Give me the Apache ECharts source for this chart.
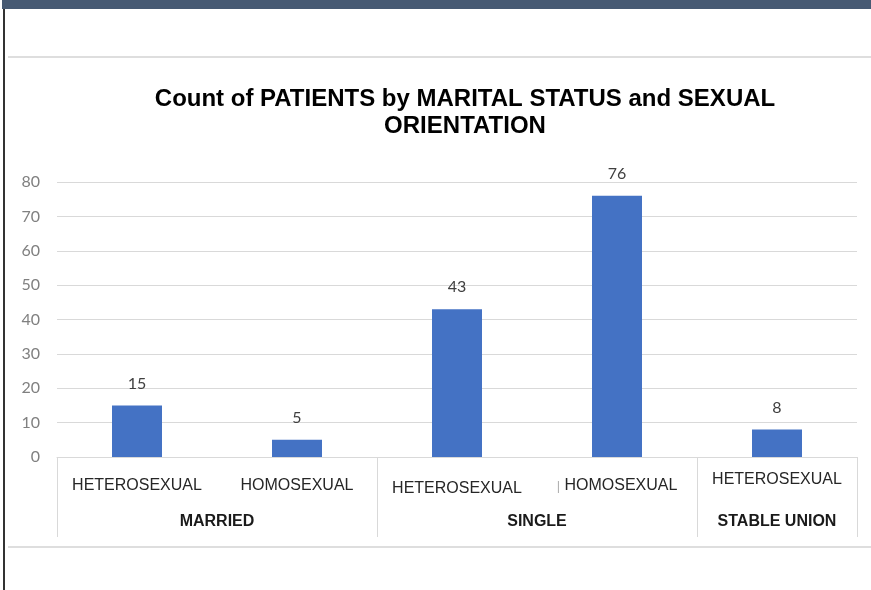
<!DOCTYPE html>
<html>
<head>
<meta charset="utf-8">
<script src="https://cdn.jsdelivr.net/npm/echarts@6/dist/echarts.min.js"></script>
<style>
  html, body { margin: 0; padding: 0; background: #fff; }
  #topbar { position: absolute; left: 2px; top: 0; width: 869px; height: 9px; background: #475a73; }
  #leftline { position: absolute; left: 3px; top: 9px; width: 2px; height: 581px; background: #333; }
  .rule { position: absolute; left: 8px; width: 863px; height: 2px; background: #dedede; }
  #chart { position: absolute; left: 0; top: 0; width: 871px; height: 590px; }
</style>
</head>
<body>
<div id="topbar"></div>
<div id="leftline"></div>
<div class="rule" style="top:56px"></div>
<div class="rule" style="top:546px"></div>
<div id="chart"></div>
<script>
// Data
const orientations = ['HETEROSEXUAL', 'HOMOSEXUAL', 'HETEROSEXUAL', 'HOMOSEXUAL', 'HETEROSEXUAL'];
const patientCounts = [15, 5, 43, 76, 8];
const groupNames = ['MARRIED', 'SINGLE', 'STABLE UNION'];
const groupSizes = [2, 2, 1];
const yTicks = [0, 10, 20, 30, 40, 50, 60, 70, 80];

// group boundaries (category indexes) and centers on a 0..N value axis
const groupStarts = [];
const groupCenters = {};
let acc = 0;
groupSizes.forEach((s, i) => {
  groupStarts.push(acc);
  groupCenters[(acc + s / 2).toFixed(1)] = groupNames[i];
  acc += s;
});

const chart = echarts.init(document.getElementById('chart'));

// small per-label shifts seen in the picture
const labelStyle = [
  {},
  {},
  { padding: [3, 0, 0, 0] },
  {},
  { verticalAlign: 'middle', padding: [3, 0, 0, 0] }
];

const option = {
  animation: false,
  title: {
    text: 'Count of PATIENTS by MARITAL STATUS and SEXUAL\nORIENTATION',
    left: 460,
    top: 81,
    textAlign: 'center',
    textStyle: {
      fontFamily: 'Liberation Sans, Arial, sans-serif',
      fontWeight: 'bold',
      fontSize: 24,
      lineHeight: 27,
      color: '#000'
    }
  },
  grid: { left: 57, right: 14, top: 182, bottom: 133 },
  xAxis: [
    {
      type: 'category',
      data: orientations.map((o, i) => ({ value: o, textStyle: labelStyle[i] })),
      axisLine: { lineStyle: { color: '#d9d9d9', width: 1 } },
      axisTick: {
        show: true,
        length: 80,
        interval: (idx) => groupStarts.indexOf(idx) !== -1,
        lineStyle: { color: '#d9d9d9', width: 1 }
      },
      axisLabel: {
        interval: 0,
        margin: 21,
        fontFamily: 'Liberation Sans, Arial, sans-serif',
        fontSize: 16,
        color: '#262626',
        formatter: (v, i) => (i === 3 ? '{bar||} ' + v : v),
        rich: { bar: { color: '#b0b0b0', fontSize: 13, fontFamily: 'Liberation Sans, Arial, sans-serif' } }
      }
    },
    {
      type: 'value',
      position: 'bottom',
      min: 0,
      max: orientations.length,
      interval: 0.5,
      axisLine: { show: false },
      axisTick: { show: false },
      splitLine: { show: false },
      axisLabel: {
        margin: 57,
        fontFamily: 'Liberation Sans, Arial, sans-serif',
        fontWeight: 'bold',
        fontSize: 16,
        color: '#1a1a1a',
        formatter: (v) => groupCenters[v.toFixed(1)] || ''
      }
    }
  ],
  yAxis: {
    type: 'value',
    min: yTicks[0],
    max: yTicks[yTicks.length - 1],
    interval: 10,
    axisLine: { show: false },
    axisTick: { show: false },
    axisLabel: {
      margin: 17,
      fontFamily: 'Lato, Noto Sans, sans-serif',
      fontSize: 16,
      color: '#808080'
    },
    splitLine: { lineStyle: { color: '#d9d9d9', width: 1 } }
  },
  series: [
    {
      type: 'bar',
      data: patientCounts,
      barWidth: 50,
      itemStyle: { color: '#4472c4' },
      label: {
        show: true,
        position: 'top',
        distance: 14,
        fontFamily: 'Lato, Noto Sans, sans-serif',
        fontSize: 16,
        color: '#404040'
      }
    }
  ]
};

chart.setOption(option);
</script>
</body>
</html>
